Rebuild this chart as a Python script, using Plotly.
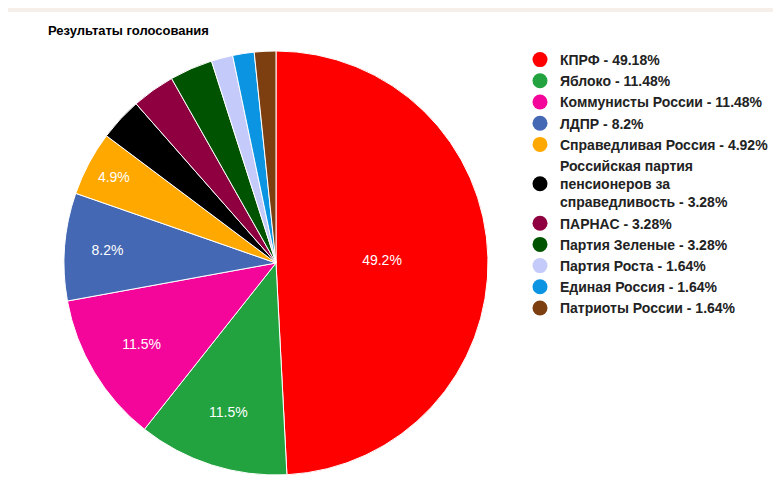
import plotly.graph_objects as go

parties = ["КПРФ", "Яблоко", "Коммунисты России", "ЛДПР", "Справедливая Россия",
           "Российская партия<br>пенсионеров за<br>справедливость", "ПАРНАС",
           "Партия Зеленые", "Партия Роста", "Единая Россия", "Патриоты России"]
votes = [30, 7, 7, 5, 3, 2, 2, 2, 1, 1, 1]
shares = ["49.18%", "11.48%", "11.48%", "8.2%", "4.92%", "3.28%", "3.28%",
          "3.28%", "1.64%", "1.64%", "1.64%"]
slice_text = ["49.2%", "11.5%", "11.5%", "8.2%", "4.9%", "", "", "", "", "", ""]
colors = ["#ff0000", "#22a33f", "#f5069a", "#4468b3", "#ffa800", "#000000",
          "#8e0040", "#005300", "#c4cbfb", "#0a94e2", "#7d3f10"]

labels = [f"{p} - {s}" for p, s in zip(parties, shares)]

W, H = 781, 504
fig = go.Figure(go.Pie(
    labels=labels, values=votes, sort=False, direction="clockwise", rotation=0,
    marker=dict(colors=colors, line=dict(color="white", width=1)),
    text=slice_text, texttemplate="%{text}", textposition="inside",
    insidetextorientation="horizontal", showlegend=False, hoverinfo="label+percent",
    textfont=dict(color="white", size=14, family="Arial"),
    domain=dict(x=[56 / W, 480 / W], y=[37 / H, 461 / H]),
))

# legend entries with round markers
for lab, col in zip(labels, colors):
    fig.add_trace(go.Scatter(x=[None], y=[None], mode="markers", name=lab,
                             marker=dict(symbol="circle", size=15, color=col)))

fig.update_layout(
    width=W, height=H, margin=dict(l=0, r=0, t=0, b=0, autoexpand=False),
    paper_bgcolor="#f6efe9", plot_bgcolor="rgba(0,0,0,0)",
    xaxis=dict(visible=False), yaxis=dict(visible=False),
    font=dict(family="Liberation Sans, Arial", color="#222"),
    title=dict(text="<b>Результаты голосования</b>", x=40 / W, y=1 - 22 / H,
               xanchor="left", yanchor="middle", font=dict(size=13, color="#000")),
    legend=dict(x=512 / W, y=1 - 36 / H, xanchor="left", yanchor="top",
                bgcolor="rgba(0,0,0,0)",
                font=dict(size=14, color="#222", weight="bold"),
                tracegroupgap=0, itemwidth=30),
    shapes=[dict(type="rect", xref="paper", yref="paper", x0=0, x1=776 / W,
                 y0=0, y1=1 - 4 / H, fillcolor="white", line_width=0, layer="below")],
)

fig.write_html("out.html")
